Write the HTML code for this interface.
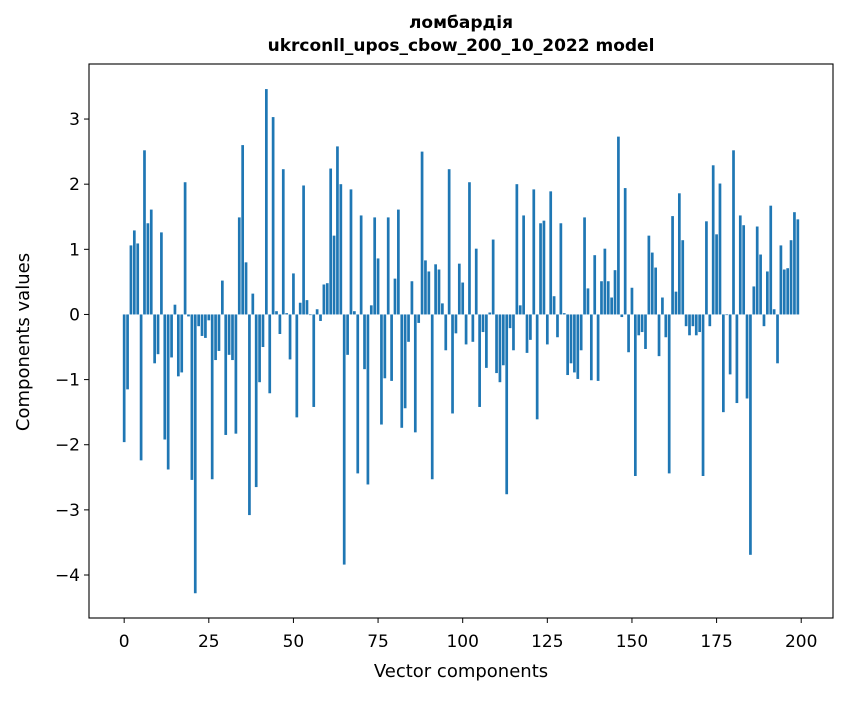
<!DOCTYPE html>
<html><head><meta charset="utf-8"><style>
body{margin:0;background:#fff}
svg text{font-family:"DejaVu Sans","Liberation Sans",sans-serif}
</style></head><body>
<svg id="chart" width="847" height="696" xmlns="http://www.w3.org/2000/svg">
<rect width="847" height="696" fill="#fff"/>
<text x="461" y="28" text-anchor="middle" font-size="17" font-weight="bold">ломбардія</text>
<text x="461" y="51" text-anchor="middle" font-size="17" font-weight="bold">ukrconll_upos_cbow_200_10_2022 model</text>
<g id="bars"></g>
<g id="xticks"></g>
<g id="yticks"></g>
<rect x="89" y="64" width="744" height="554" fill="none" stroke="#000" stroke-width="1.1"/>
<text x="461" y="677" text-anchor="middle" font-size="18">Vector components</text>
<text transform="translate(29,342) rotate(-90)" text-anchor="middle" font-size="18">Components values</text>
</svg>
<script>
const values = [-1.96,-1.15,1.06,1.29,1.09,-2.24,2.52,1.40,1.61,-0.75,
-0.61,1.26,-1.92,-2.38,-0.66,0.15,-0.95,-0.89,2.03,-0.03,
-2.54,-4.28,-0.18,-0.33,-0.36,-0.09,-2.53,-0.70,-0.56,0.52,
-1.85,-0.62,-0.70,-1.83,1.49,2.60,0.80,-3.08,0.32,-2.65,
-1.04,-0.50,3.46,-1.21,3.03,0.05,-0.30,2.23,0.02,-0.69,
0.63,-1.58,0.18,1.98,0.22,-0.01,-1.42,0.08,-0.10,0.46,
0.48,2.24,1.21,2.58,2.00,-3.84,-0.62,1.92,0.05,-2.44,
1.52,-0.84,-2.61,0.14,1.49,0.86,-1.69,-0.98,1.49,-1.02,
0.55,1.61,-1.74,-1.44,-0.42,0.51,-1.81,-0.13,2.50,0.83,
0.66,-2.53,0.77,0.69,0.17,-0.55,2.23,-1.52,-0.29,0.78,
0.49,-0.46,2.03,-0.42,1.01,-1.42,-0.27,-0.82,0.03,1.15,
-0.90,-1.04,-0.78,-2.76,-0.21,-0.55,2.00,0.14,1.52,-0.59,
-0.39,1.92,-1.61,1.40,1.44,-0.46,1.89,0.28,-0.35,1.40,
0.02,-0.93,-0.75,-0.89,-0.99,-0.55,1.49,0.40,-1.01,0.91,
-1.02,0.51,1.01,0.51,0.26,0.68,2.73,-0.04,1.94,-0.58,
0.41,-2.48,-0.32,-0.27,-0.53,1.21,0.95,0.72,-0.64,0.26,
-0.35,-2.44,1.51,0.35,1.86,1.14,-0.18,-0.32,-0.18,-0.32,
-0.27,-2.48,1.43,-0.18,2.29,1.23,2.01,-1.50,-0.01,-0.92,
2.52,-1.36,1.52,1.37,-1.29,-3.69,0.43,1.35,0.92,-0.18,
0.66,1.67,0.08,-0.75,1.06,0.69,0.71,1.14,1.57,1.46];
const xTickLabels = [0,25,50,75,100,125,150,175,200];
const yTickLabels = [-4,-3,-2,-1,0,1,2,3];

const NS="http://www.w3.org/2000/svg";
const L=89,R=833,T=64,B=618;
const xMin=-10.39,xMax=209.39,yMin=-4.66,yMax=3.845;
function xs(v){return L+(v-xMin)/(xMax-xMin)*(R-L);}
function ys(v){return T+(yMax-v)/(yMax-yMin)*(B-T);}
const bars=document.getElementById('bars');
values.forEach((v,i)=>{
  const r=document.createElementNS(NS,'rect');
  const x0=xs(i-0.4),x1=xs(i+0.4);
  const y0=ys(Math.max(v,0)),y1=ys(Math.min(v,0));
  r.setAttribute('x',x0);r.setAttribute('width',x1-x0);
  r.setAttribute('y',y0);r.setAttribute('height',Math.max(y1-y0,0.01));
  r.setAttribute('fill','#1f77b4');
  
  
  bars.appendChild(r);
});
const xt=document.getElementById('xticks');
xTickLabels.forEach(t=>{
  const x=xs(t);
  const l=document.createElementNS(NS,'line');
  l.setAttribute('x1',x);l.setAttribute('x2',x);l.setAttribute('y1',B);l.setAttribute('y2',B+5);
  l.setAttribute('stroke','#000');
  
  
  xt.appendChild(l);
  const tx=document.createElementNS(NS,'text');
  tx.setAttribute('x',x);tx.setAttribute('y',B+29);tx.setAttribute('text-anchor','middle');tx.setAttribute('font-size','17');
  tx.textContent=t;
  
  
  xt.appendChild(tx);
});
const yt=document.getElementById('yticks');
yTickLabels.forEach(t=>{
  const y=ys(t);
  const l=document.createElementNS(NS,'line');
  l.setAttribute('x1',L-5);l.setAttribute('x2',L);l.setAttribute('y1',y);l.setAttribute('y2',y);
  l.setAttribute('stroke','#000');
  
  
  yt.appendChild(l);
  const tx=document.createElementNS(NS,'text');
  tx.setAttribute('x',L-9);tx.setAttribute('y',y+6);tx.setAttribute('text-anchor','end');tx.setAttribute('font-size','17');
  tx.textContent=t<0?'\u2212'+Math.abs(t):String(t);
  
  
  yt.appendChild(tx);
});
</script>
</body></html>
